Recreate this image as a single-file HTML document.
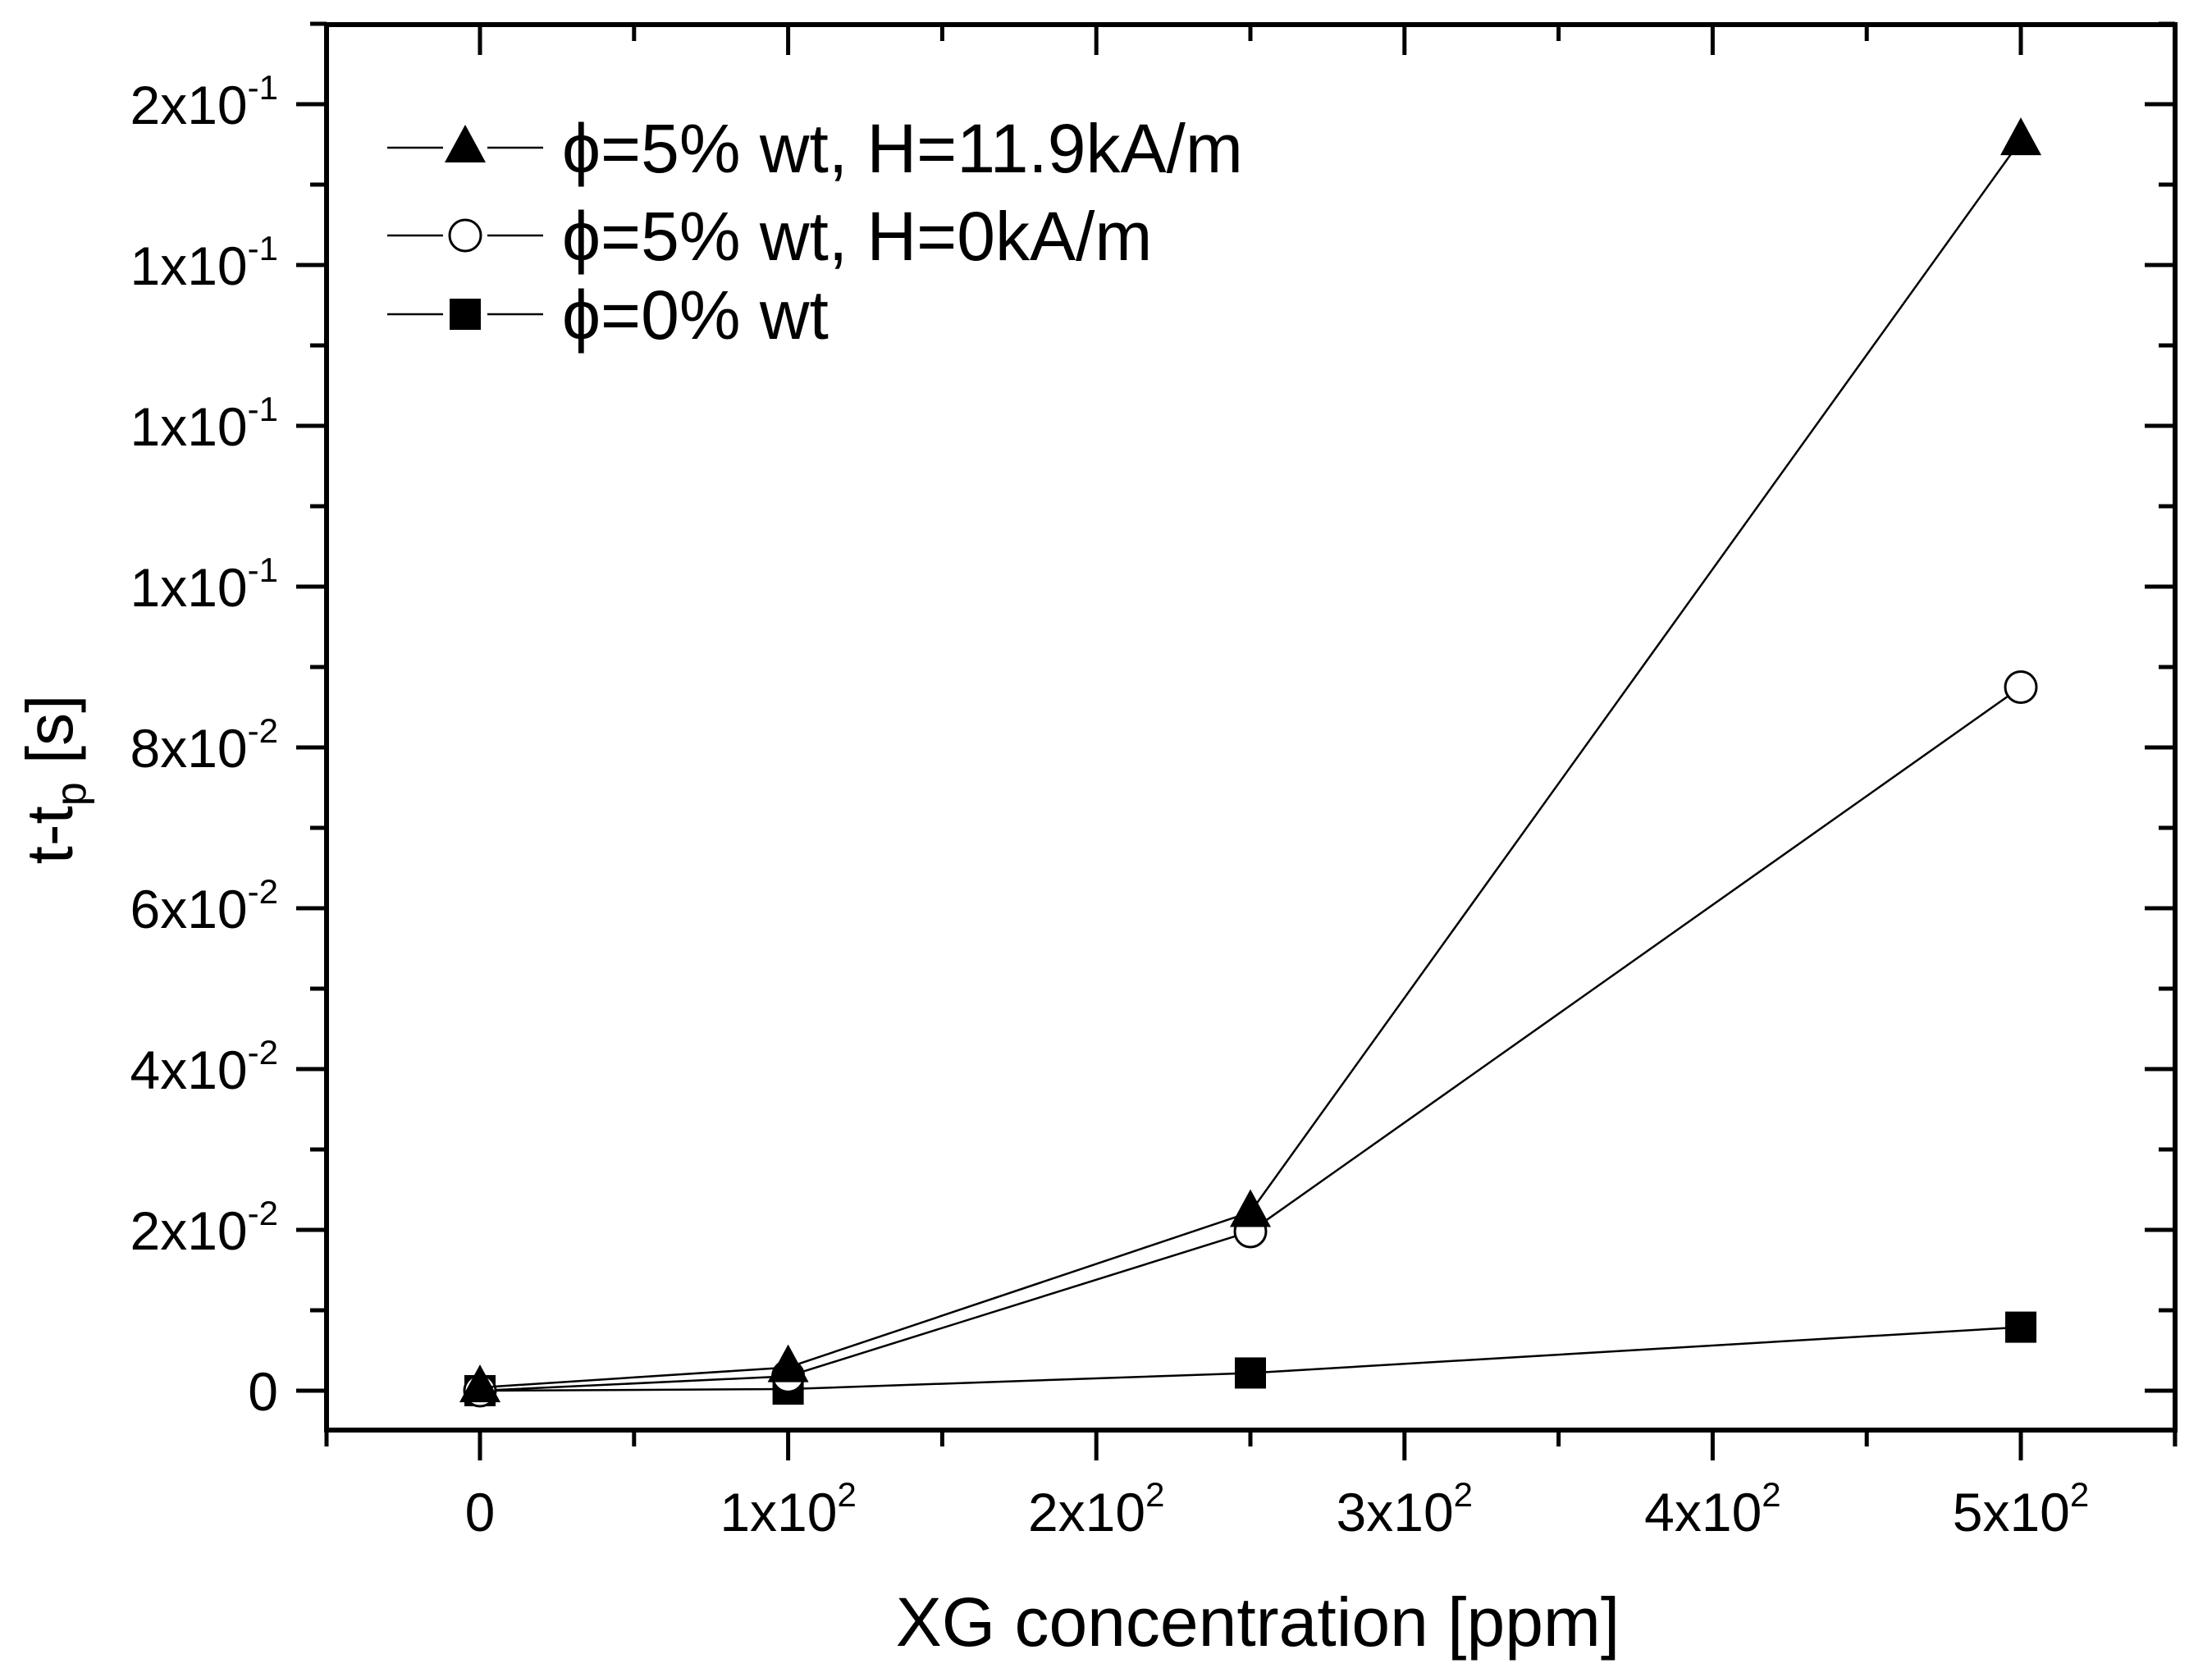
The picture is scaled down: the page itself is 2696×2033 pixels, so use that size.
<!DOCTYPE html>
<html><head><meta charset="utf-8"><style>
html,body{margin:0;padding:0;background:#fff;}
svg{display:block;font-family:"Liberation Sans",Arial,sans-serif;}
</style></head><body>
<svg id="chart" width="2696" height="2033" viewBox="0 0 2696 2033" xmlns="http://www.w3.org/2000/svg"></svg>
<script>
const xCats = [0, 100, 250, 500];
const triVals = [0.0004, 0.0029, 0.0222, 0.1555];
const circVals = [0.0000, 0.0018, 0.0198, 0.0875];
const sqVals = [0.0000, 0.0002, 0.0022, 0.0079];
const xTicks = [0, 100, 200, 300, 400, 500];
const xTickLabels = [["0",""],["1x10","2"],["2x10","2"],["3x10","2"],["4x10","2"],["5x10","2"]];
const yTicks = [0, 0.02, 0.04, 0.06, 0.08, 0.10, 0.12, 0.14, 0.16];
const yTickLabels = [["0",""],["2x10","-2"],["4x10","-2"],["6x10","-2"],["8x10","-2"],["1x10","-1"],["1x10","-1"],["1x10","-1"],["2x10","-1"]];

const L=398, R=2651, T=30, B=1743;
const X0=585, XS=3.756, Y0=1695, YS=9800;
function xs(v){return X0+v*XS;}
function ys(v){return Y0-v*YS;}
const NS="http://www.w3.org/2000/svg";
const svg=document.getElementById('chart');
function el(tag,attrs,parent){const e=document.createElementNS(NS,tag);for(const k in attrs)e.setAttribute(k,attrs[k]);(parent||svg).appendChild(e);return e;}

const frame=el('rect',{x:L,y:T,width:R-L,height:B-T,fill:'none',stroke:'#000','stroke-width':6});



for(let i=0;i<xTicks.length;i++){
  const x=xs(xTicks[i]);
  const t=el('line',{x1:x,y1:B,x2:x,y2:B+37,stroke:'#000','stroke-width':5});
  
  
  const t2=el('line',{x1:x,y1:T,x2:x,y2:T+37,stroke:'#000','stroke-width':5});
  
  
  const lab=el('text',{x:x,y:1866,'font-size':66,'text-anchor':'middle'});
  
  
  lab.textContent=xTickLabels[i][0];
  if(xTickLabels[i][1]){const s=el('tspan',{'font-size':42,dy:-30},lab);s.textContent=xTickLabels[i][1];}
}
for(let v=-50; v<=550; v+=100){
  const x=xs(v); if(x<L||x>R) continue;
  const m=el('line',{x1:x,y1:B,x2:x,y2:B+20,stroke:'#000','stroke-width':5});
  
  
  const m2=el('line',{x1:x,y1:T,x2:x,y2:T+20,stroke:'#000','stroke-width':5});
  
  
}
{const m=el('line',{x1:L,y1:B,x2:L,y2:B+20,stroke:'#000','stroke-width':5});
 
 
 const m2=el('line',{x1:R,y1:B,x2:R,y2:B+20,stroke:'#000','stroke-width':5});
 
 }

for(let i=0;i<yTicks.length;i++){
  const y=ys(yTicks[i]);
  const t=el('line',{x1:L-37,y1:y,x2:L,y2:y,stroke:'#000','stroke-width':5});
  
  
  const t2=el('line',{x1:R-37,y1:y,x2:R,y2:y,stroke:'#000','stroke-width':5});
  
  
  const lab=el('text',{x:339,y:y+24,'font-size':66,'text-anchor':'end'});
  
  
  lab.textContent=yTickLabels[i][0];
  if(yTickLabels[i][1]){const s=el('tspan',{'font-size':42,dy:-30},lab);s.textContent=yTickLabels[i][1];}
}
for(let v=0.01; v<0.17; v+=0.02){
  const y=ys(v);
  const m=el('line',{x1:L-20,y1:y,x2:L,y2:y,stroke:'#000','stroke-width':5});
  
  
  const m2=el('line',{x1:R-20,y1:y,x2:R,y2:y,stroke:'#000','stroke-width':5});
  
  
}

const xt=el('text',{x:1533,y:2006,'font-size':84,'text-anchor':'middle'});


xt.textContent='XG concentration [ppm]';
const yt=el('text',{x:0,y:0,'font-size':80,'text-anchor':'middle',transform:'translate(88,950) rotate(-90)'});


yt.textContent='t-t';
const sub=el('tspan',{'font-size':52,dy:16},yt); sub.textContent='p';
const rest=el('tspan',{dy:-16},yt); rest.textContent=' [s]';

function marker(type,cx,cy,g,name){
  let m;
  if(type==='tri') m=el('polygon',{points:`${cx},${cy-28} ${cx-25},${cy+18} ${cx+25},${cy+18}`,fill:'#000'},g);
  else if(type==='circ') m=el('circle',{cx:cx,cy:cy,r:19,fill:'#fff',stroke:'#000','stroke-width':3},g);
  else m=el('rect',{x:cx-19,y:cy-19,width:38,height:38,fill:'#000'},g);
  
  
}
function series(vals,type,name){
  const g=el('g',{});
  
  
  const pts=vals.map((v,i)=>xs(xCats[i])+','+ys(v)).join(' ');
  const pl=el('polyline',{points:pts,fill:'none',stroke:'#000','stroke-width':2.5},g);
  
  
  vals.forEach((v,i)=>marker(type,xs(xCats[i]),ys(v),g,name+'-point'));
}
series(sqVals,'sq','series-phi0');
series(circVals,'circ','series-phi5-h0');
series(triVals,'tri','series-phi5-h11');

const legItems=[['tri','\u03d5=5% wt, H=11.9kA/m',180],['circ','\u03d5=5% wt, H=0kA/m',287],['sq','\u03d5=0% wt',383]];
legItems.forEach(it=>{
  const g=el('g',{});
  
  
  const ln=el('line',{x1:472,y1:it[2],x2:662,y2:it[2],stroke:'#000','stroke-width':2.5},g);
  
  
  const bg=el('rect',{x:540,y:it[2]-30,width:54,height:60,fill:'#fff'},g);
  
  
  marker(it[0],567,it[2],g,'legend-marker');
  const tx=el('text',{x:685,y:it[2]+30,'font-size':84},g);
  
  
  tx.textContent=it[1];
});
</script>
</body></html>
